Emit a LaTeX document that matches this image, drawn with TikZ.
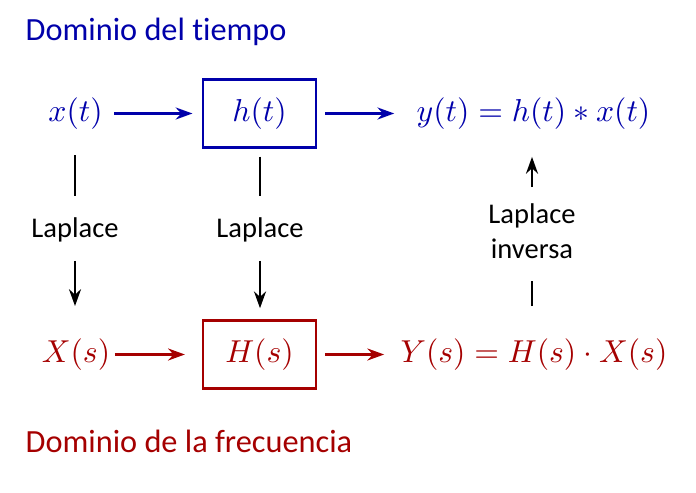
\documentclass[tikz,border=0pt]{standalone}
\usepackage{fontspec}
\newfontfamily\labfont[Ligatures=NoCommon]{Carlito}
\usetikzlibrary{arrows.meta}
\definecolor{tblue}{RGB}{0,0,170}
\definecolor{fred}{RGB}{165,0,0}
\begin{document}
\begin{tikzpicture}[x=0.3155pt,y=-0.3155pt,
  mathnode/.style={inner sep=0pt, font=\fontsize{10}{12}\selectfont},
  blockbox/.style={draw, line width=0.7pt, minimum width=35.6pt, minimum height=21.5pt, inner sep=0pt, font=\fontsize{10}{12}\selectfont},
  conn/.style={line width=0.7pt, -{Stealth[length=5.3pt,width=3.8pt]}},
  plainline/.style={line width=0.7pt},
  lapnode/.style={inner sep=0pt, font=\labfont\fontsize{9}{11}\selectfont, align=center},
  titlenode/.style={inner sep=0pt, anchor=base west, font=\labfont\fontsize{10.2}{12}\selectfont}]
\useasboundingbox (0,0) rectangle (696,493);

\node[titlenode, text=tblue] (tt) at (25,41) {Dominio del tiempo};
\node[titlenode, text=fred] (ft) at (25,452) {Dominio de la frecuencia};

\node[mathnode, text=tblue] (xt) at (75.5,113.5) {$x(t)$};
\node[blockbox, draw=tblue, text=tblue] (ht) at (259.5,113.5) {$h(t)$};
\node[mathnode, text=tblue] (yt) at (533.5,113.5) {$y(t)=h(t)*x(t)$};

\node[mathnode, text=fred] (Xs) at (76,354.5) {$X(s)$};
\node[blockbox, draw=fred, text=fred] (Hs) at (259.5,354.5) {$H(s)$};
\node[mathnode, text=fred] (Ys) at (534,354.5) {$Y(s)=H(s)\cdot X(s)$};

\node[lapnode, text height=7pt, text depth=2pt, anchor=base] (l1) at (75,238) {Laplace};
\node[lapnode, text height=7pt, text depth=2pt, anchor=base] (l2) at (260,238) {Laplace};
\node[lapnode, anchor=north] (l3) at (532,203) {Laplace\\inversa};

% horizontal connectors
\draw[conn, tblue, shorten <=3.5pt, shorten >=3pt] (xt.east) -- (ht.west);
\draw[conn, tblue, shorten <=2.6pt, shorten >=6.9pt] (ht.east) -- (yt.west);
\draw[conn, fred, shorten <=1.3pt, shorten >=5.4pt] (Xs.east) -- (Hs.west);
\draw[conn, fred, shorten <=2.6pt, shorten >=5pt] (Hs.east) -- (Ys.west);

% Laplace left
\draw[plainline, shorten <=7.9pt, shorten >=6pt] (l1.north |- xt.south) -- (l1.north);
\draw[conn, shorten <=5pt, shorten >=10.1pt] (l1.south) -- (l1.south |- Xs.north);
% Laplace middle
\draw[plainline, shorten <=2.5pt, shorten >=6pt] (l2.north |- ht.south) -- (l2.north);
\draw[conn, shorten <=5pt, shorten >=3.5pt] (l2.south) -- (l2.south |- Hs.north);
% inverse
\draw[plainline, shorten <=10.1pt, shorten >=7pt] (l3.south |- Ys.north) -- (l3.south);
\draw[conn, shorten <=5pt, shorten >=8.5pt] (l3.north) -- (l3.north |- yt.south);
\end{tikzpicture}
\end{document}
